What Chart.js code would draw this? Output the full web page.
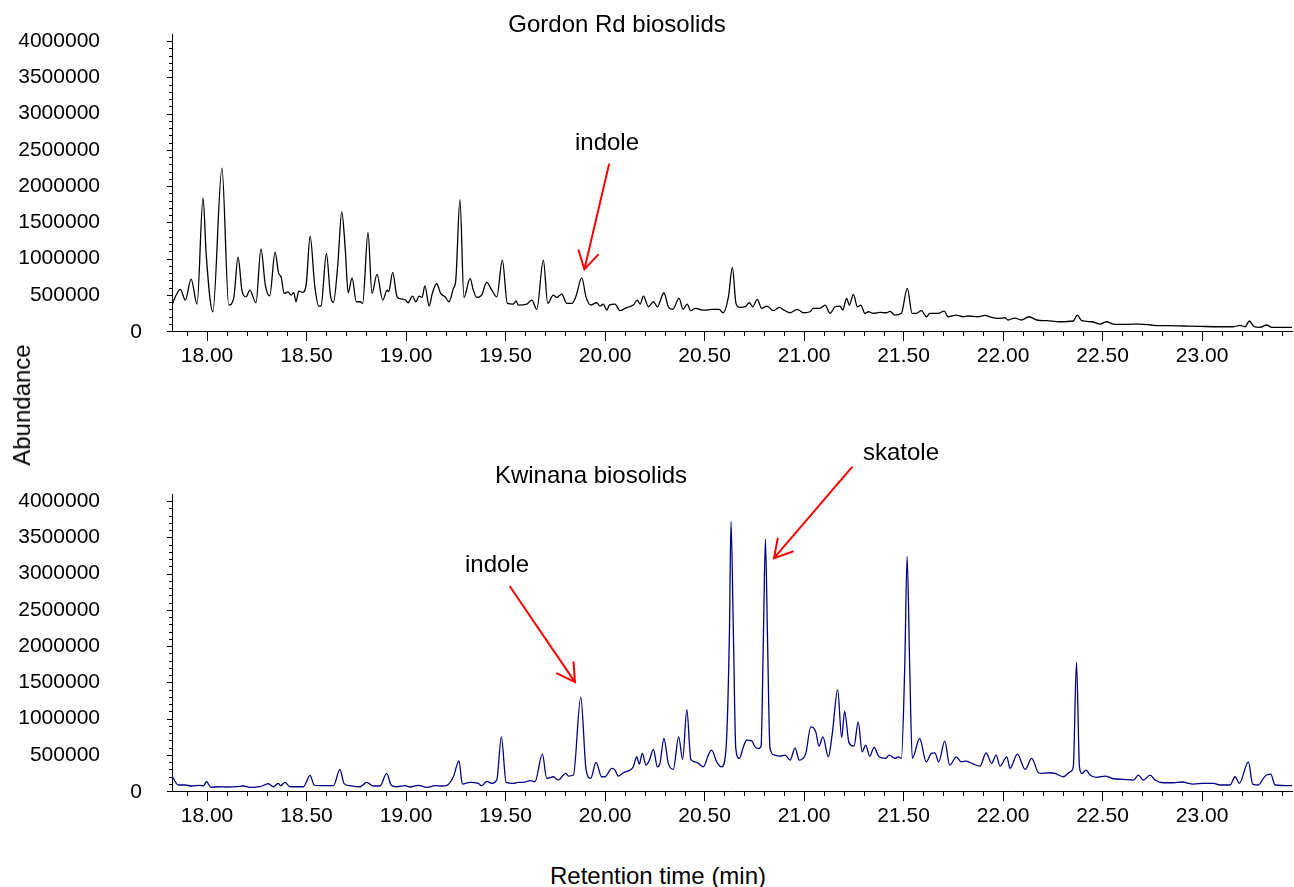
<!DOCTYPE html>
<html>
<head>
<meta charset="utf-8">
<script src="https://cdn.jsdelivr.net/npm/chart.js@4.4.1/dist/chart.umd.min.js"></script>
<style>
  html, body { margin: 0; padding: 0; background: #fff; }
  body { width: 1294px; height: 887px; position: relative; overflow: hidden;
         font-family: 'Liberation Sans', Arial, sans-serif; color: #000; }
  .panel { position: absolute; left: 0; width: 1294px; }
  .lbl { position: absolute; font-size: 24px; white-space: nowrap; transform: translate(-50%, -50%); }
</style>
</head>
<body>
<div class="panel" style="top:0;height:380px"><canvas id="gordon" width="1294" height="380"></canvas></div>
<div class="panel" style="top:400px;height:440px"><canvas id="kwinana" width="1294" height="440"></canvas></div>
<div class="lbl" style="left:617px;top:24px">Gordon Rd biosolids</div>
<div class="lbl" style="left:591px;top:475px">Kwinana biosolids</div>
<div class="lbl" style="left:22px;top:405px;transform:translate(-50%,-50%) rotate(-90deg)">Abundance</div>
<div class="lbl" style="left:658px;top:876px">Retention time (min)</div>

<script>
// ---- Gordon Rd biosolids: total ion chromatogram (retention time in min, abundance) ----
const gordonTime = [
  17.824, 17.841, 17.866, 17.891, 17.920, 17.950, 17.980, 17.996, 18.029, 18.075,
  18.109, 18.134, 18.156, 18.176, 18.196, 18.215, 18.246, 18.271, 18.293, 18.315,
  18.342, 18.360, 18.372, 18.388, 18.407, 18.422, 18.436, 18.447, 18.461, 18.481,
  18.499, 18.518, 18.541, 18.561, 18.573, 18.600, 18.620, 18.635, 18.657, 18.677,
  18.695, 18.709, 18.729, 18.750, 18.770, 18.782, 18.809, 18.829, 18.854, 18.883,
  18.905, 18.913, 18.933, 18.955, 18.980, 18.997, 19.010, 19.032, 19.050, 19.065,
  19.080, 19.095, 19.116, 19.132, 19.154, 19.174, 19.196, 19.216, 19.238, 19.250,
  19.271, 19.291, 19.322, 19.338, 19.355, 19.380, 19.405, 19.431, 19.456, 19.484,
  19.509, 19.539, 19.553, 19.564, 19.607, 19.632, 19.657, 19.690, 19.712, 19.740,
  19.757, 19.782, 19.808, 19.833, 19.853, 19.883, 19.905, 19.928, 19.958, 19.975,
  19.991, 20.009, 20.022, 20.050, 20.075, 20.101, 20.122, 20.142, 20.162, 20.176,
  20.193, 20.218, 20.243, 20.263, 20.296, 20.318, 20.340, 20.372, 20.392, 20.413,
  20.430, 20.455, 20.488, 20.514, 20.539, 20.573, 20.593, 20.620, 20.640, 20.658,
  20.678, 20.704, 20.725, 20.742, 20.765, 20.787, 20.813, 20.846, 20.876, 20.899,
  20.930, 20.966, 20.997, 21.030, 21.047, 21.080, 21.106, 21.131, 21.156, 21.181,
  21.194, 21.214, 21.228, 21.248, 21.268, 21.285, 21.306, 21.323, 21.348, 21.382,
  21.415, 21.432, 21.457, 21.489, 21.519, 21.543, 21.564, 21.590, 21.615, 21.632,
  21.673, 21.704, 21.724, 21.766, 21.799, 21.824, 21.874, 21.908, 21.941, 21.975,
  22.009, 22.025, 22.059, 22.092, 22.131, 22.169, 22.220, 22.286, 22.353, 22.373,
  22.395, 22.446, 22.487, 22.521, 22.554, 22.621, 22.688, 22.755, 22.822, 22.906,
  22.990, 23.074, 23.157, 23.191, 23.216, 23.238, 23.262, 23.291, 23.325, 23.350,
  23.452
];
const gordonAbund = [
  358000, 472000, 574000, 427000, 716000, 372000, 1836000, 1047000, 266000, 2249000,
  358000, 450000, 1019000, 551000, 472000, 565000, 390000, 1134000, 634000, 486000,
  1088000, 795000, 748000, 519000, 541000, 496000, 528000, 404000, 551000, 533000,
  657000, 1309000, 634000, 344000, 348000, 1070000, 496000, 395000, 909000, 1643000,
  1116000, 528000, 734000, 404000, 404000, 382000, 1360000, 519000, 781000, 427000,
  565000, 541000, 809000, 472000, 441000, 427000, 390000, 482000, 404000, 482000,
  464000, 624000, 344000, 519000, 652000, 519000, 472000, 404000, 588000, 702000,
  1814000, 464000, 726000, 565000, 464000, 496000, 671000, 565000, 472000, 978000,
  382000, 372000, 417000, 358000, 372000, 427000, 299000, 978000, 382000, 496000,
  464000, 510000, 382000, 382000, 472000, 734000, 464000, 358000, 390000, 344000,
  372000, 289000, 358000, 372000, 280000, 313000, 335000, 358000, 427000, 372000,
  482000, 335000, 404000, 335000, 528000, 335000, 299000, 450000, 299000, 372000,
  280000, 313000, 289000, 289000, 299000, 299000, 252000, 472000, 877000, 382000,
  326000, 335000, 390000, 335000, 437000, 313000, 344000, 280000, 326000, 289000,
  252000, 299000, 252000, 266000, 313000, 313000, 358000, 244000, 335000, 344000,
  289000, 450000, 358000, 506000, 335000, 358000, 244000, 266000, 244000, 258000,
  252000, 271000, 220000, 244000, 588000, 244000, 244000, 280000, 197000, 244000,
  244000, 275000, 197000, 220000, 197000, 207000, 197000, 216000, 189000, 175000,
  183000, 152000, 179000, 152000, 197000, 152000, 142000, 128000, 138000, 220000,
  142000, 128000, 96000, 128000, 96000, 92000, 96000, 79000, 73000, 69000,
  65000, 59000, 59000, 79000, 59000, 138000, 59000, 51000, 83000, 51000,
  51000
];

// ---- Kwinana biosolids: total ion chromatogram ----
const kwinanaTime = [
  17.824, 17.856, 17.889, 17.923, 17.965, 17.981, 17.998, 18.019, 18.057, 18.099,
  18.149, 18.182, 18.216, 18.266, 18.308, 18.333, 18.358, 18.370, 18.392, 18.417,
  18.451, 18.484, 18.518, 18.538, 18.568, 18.602, 18.635, 18.668, 18.688, 18.719,
  18.769, 18.803, 18.836, 18.869, 18.903, 18.925, 18.953, 18.995, 19.020, 19.062,
  19.104, 19.146, 19.179, 19.205, 19.238, 19.266, 19.283, 19.322, 19.363, 19.380,
  19.406, 19.431, 19.456, 19.479, 19.503, 19.539, 19.564, 19.589, 19.623, 19.648,
  19.685, 19.707, 19.740, 19.765, 19.803, 19.816, 19.841, 19.878, 19.905, 19.928,
  19.955, 19.983, 20.000, 20.034, 20.050, 20.067, 20.092, 20.126, 20.142, 20.159,
  20.172, 20.187, 20.206, 20.223, 20.243, 20.263, 20.276, 20.296, 20.318, 20.343,
  20.370, 20.390, 20.411, 20.431, 20.452, 20.469, 20.494, 20.519, 20.536, 20.561,
  20.586, 20.608, 20.625, 20.633, 20.645, 20.657, 20.675, 20.695, 20.712, 20.737,
  20.754, 20.770, 20.784, 20.796, 20.806, 20.816, 20.829, 20.854, 20.879, 20.905,
  20.930, 20.955, 20.976, 20.995, 21.009, 21.034, 21.059, 21.075, 21.095, 21.122,
  21.142, 21.169, 21.189, 21.204, 21.226, 21.251, 21.272, 21.292, 21.310, 21.330,
  21.352, 21.377, 21.410, 21.427, 21.457, 21.474, 21.489, 21.506, 21.518, 21.531,
  21.544, 21.581, 21.614, 21.640, 21.657, 21.677, 21.707, 21.732, 21.765, 21.790,
  21.815, 21.851, 21.884, 21.915, 21.943, 21.965, 21.985, 22.019, 22.035, 22.072,
  22.111, 22.144, 22.178, 22.194, 22.228, 22.261, 22.303, 22.337, 22.353, 22.369,
  22.384, 22.396, 22.417, 22.437, 22.471, 22.513, 22.554, 22.605, 22.655, 22.680,
  22.705, 22.739, 22.764, 22.806, 22.856, 22.898, 22.957, 23.007, 23.057, 23.090,
  23.141, 23.166, 23.187, 23.233, 23.254, 23.283, 23.308, 23.325, 23.345, 23.367,
  23.452
];
const kwinanaAbund = [
  206000, 83000, 83000, 69000, 78000, 69000, 128000, 51000, 59000, 55000,
  59000, 69000, 51000, 59000, 100000, 59000, 106000, 73000, 120000, 59000,
  59000, 59000, 216000, 83000, 73000, 73000, 73000, 298000, 106000, 73000,
  59000, 120000, 69000, 69000, 243000, 83000, 59000, 73000, 55000, 78000,
  51000, 73000, 69000, 78000, 197000, 417000, 96000, 120000, 106000, 73000,
  133000, 106000, 151000, 747000, 120000, 106000, 120000, 120000, 142000, 128000,
  509000, 175000, 197000, 151000, 243000, 206000, 220000, 1297000, 289000, 175000,
  395000, 197000, 197000, 312000, 289000, 206000, 252000, 289000, 334000, 472000,
  371000, 519000, 358000, 426000, 574000, 334000, 381000, 725000, 381000, 298000,
  747000, 436000, 1124000, 436000, 403000, 381000, 334000, 495000, 564000, 403000,
  334000, 587000, 2169000, 3718000, 2169000, 587000, 450000, 609000, 702000, 692000,
  609000, 587000, 619000, 2169000, 3476000, 2169000, 587000, 495000, 481000, 495000,
  426000, 596000, 426000, 450000, 519000, 884000, 816000, 619000, 747000, 472000,
  794000, 1399000, 739000, 1100000, 664000, 619000, 953000, 541000, 633000, 481000,
  601000, 472000, 450000, 495000, 450000, 472000, 450000, 1710000, 3237000, 1710000,
  450000, 725000, 403000, 519000, 527000, 403000, 688000, 358000, 472000, 403000,
  413000, 371000, 344000, 527000, 381000, 495000, 344000, 472000, 312000, 509000,
  298000, 450000, 252000, 243000, 252000, 243000, 197000, 265000, 334000, 1779000,
  334000, 243000, 289000, 220000, 188000, 206000, 169000, 161000, 151000, 220000,
  151000, 220000, 151000, 114000, 114000, 124000, 96000, 106000, 106000, 83000,
  83000, 197000, 106000, 403000, 96000, 83000, 175000, 220000, 234000, 83000,
  73000
];

// ---- Axes ----
const timeRange = [17.824, 23.452];
const abundRange = [0, 4100000];
const timeTickLabels = [18.00, 18.50, 19.00, 19.50, 20.00, 20.50, 21.00, 21.50, 22.00, 22.50, 23.00];
const abundTickLabels = [0, 500000, 1000000, 1500000, 2000000, 2500000, 3000000, 3500000, 4000000];
const timeMinorStep = 0.1;
const abundMinorStep = 100000;

// ---- Compound call-outs (data coordinates) ----
const gordonCallouts = [
  { text: 'indole', textAt: [20.010, 2590000], from: [20.020, 2300000], to: [19.896, 850000] }
];
const kwinanaCallouts = [
  { text: 'indole', textAt: [19.457, 3109000], from: [19.523, 2820000], to: [19.849, 1503000] },
  { text: 'skatole', textAt: [21.487, 4663000], from: [21.241, 4470000], to: [20.849, 3215000] }
];

const FONT = "'Liberation Sans', Arial, sans-serif";
Chart.defaults.font.family = FONT;
Chart.defaults.color = '#000';

// Abundance tick marks (major and minor), minor time ticks, and the offset "0" label.
const axisMarksPlugin = {
  id: 'axisMarks',
  afterDraw(chart) {
    const { ctx, chartArea, scales: { x, y } } = chart;
    ctx.save();
    ctx.strokeStyle = '#000';
    ctx.lineWidth = 1;
    ctx.beginPath();
    const xStart = Math.ceil(timeRange[0] / timeMinorStep);
    const xEnd = Math.floor(timeRange[1] / timeMinorStep);
    for (let i = xStart; i <= xEnd; i++) {
      if (i % 5 === 0) continue;
      const px = Math.round(x.getPixelForValue(i * timeMinorStep)) + 0.5;
      ctx.moveTo(px, chartArea.bottom);
      ctx.lineTo(px, chartArea.bottom + 5);
    }
    const yEnd = Math.floor(abundTickLabels[abundTickLabels.length - 1] / abundMinorStep);
    for (let i = 0; i <= yEnd; i++) {
      const py = Math.round(y.getPixelForValue(i * abundMinorStep)) + 0.5;
      const len = (i % 5 === 0) ? 5 : 3;
      ctx.moveTo(chartArea.left - len, py);
      ctx.lineTo(chartArea.left, py);
    }
    ctx.stroke();
    ctx.fillStyle = '#000';
    ctx.font = '21px ' + FONT;
    ctx.textAlign = 'right';
    ctx.textBaseline = 'middle';
    ctx.fillText('0', chartArea.left - 30, y.getPixelForValue(0) + 1);
    ctx.restore();
  }
};

// Red arrows pointing at named compounds.
const calloutPlugin = {
  id: 'callouts',
  afterDatasetsDraw(chart, args, opts) {
    const { ctx, scales: { x, y } } = chart;
    const P = (pt) => [x.getPixelForValue(pt[0]), y.getPixelForValue(pt[1])];
    ctx.save();
    for (const c of opts.items || []) {
      const [x0, y0] = P(c.from);
      const [x1, y1] = P(c.to);
      ctx.strokeStyle = '#ff0000';
      ctx.lineWidth = 2;
      ctx.lineCap = 'round';
      ctx.beginPath();
      ctx.moveTo(x0, y0);
      ctx.lineTo(x1, y1);
      const ang = Math.atan2(y1 - y0, x1 - x0);
      const head = 20, spread = Math.PI / 6;
      ctx.moveTo(x1 - head * Math.cos(ang - spread), y1 - head * Math.sin(ang - spread));
      ctx.lineTo(x1, y1);
      ctx.lineTo(x1 - head * Math.cos(ang + spread), y1 - head * Math.sin(ang + spread));
      ctx.stroke();
      const [tx, ty] = P(c.textAt);
      ctx.fillStyle = '#000';
      ctx.font = '24px ' + FONT;
      ctx.textAlign = 'center';
      ctx.textBaseline = 'middle';
      ctx.fillText(c.text, tx, ty);
    }
    ctx.restore();
  }
};

function buildChart(canvasId, times, abund, color, topPad, callouts) {
  const points = times.map((t, i) => ({ x: t, y: abund[i] }));
  return new Chart(document.getElementById(canvasId), {
    type: 'line',
    data: {
      datasets: [{
        data: points,
        borderColor: color,
        borderWidth: 1.3,
        pointRadius: 0,
        fill: false,
        cubicInterpolationMode: 'monotone'
      }]
    },
    options: {
      responsive: false,
      animation: false,
      events: [],
      layout: { padding: { top: topPad, right: 2, left: 0, bottom: 0 } },
      plugins: {
        legend: { display: false },
        tooltip: { enabled: false },
        callouts: { items: callouts }
      },
      scales: {
        x: {
          type: 'linear',
          min: timeRange[0],
          max: timeRange[1],
          afterBuildTicks: (s) => { s.ticks = timeTickLabels.map(v => ({ value: v })); },
          afterFit: (s) => { s.height = 49; },
          ticks: {
            autoSkip: false, maxRotation: 0, padding: 3,
            font: { size: 21 },
            callback: (v) => Number(v).toFixed(2)
          },
          grid: { drawOnChartArea: false, drawTicks: true, tickLength: 10, color: '#000', lineWidth: 1 },
          border: { display: true, color: '#000', width: 1 }
        },
        y: {
          type: 'linear',
          min: abundRange[0],
          max: abundRange[1],
          afterBuildTicks: (s) => { s.ticks = abundTickLabels.map(v => ({ value: v })); },
          afterFit: (s) => { s.width = 172; },
          ticks: {
            padding: 2,
            font: { size: 21 },
            callback: (v) => (v === 0 ? '' : String(v))
          },
          // long, invisible tick length positions the labels; visible marks come from axisMarksPlugin
          grid: { drawOnChartArea: false, drawTicks: true, tickLength: 70, tickColor: 'rgba(0,0,0,0)', color: '#000', lineWidth: 1 },
          border: { display: true, color: '#000', width: 1 }
        }
      }
    },
    plugins: [axisMarksPlugin, calloutPlugin]
  });
}

buildChart('gordon', gordonTime, gordonAbund, '#000000', 34, gordonCallouts);
buildChart('kwinana', kwinanaTime, kwinanaAbund, '#000080', 94, kwinanaCallouts);
</script>
</body>
</html>
